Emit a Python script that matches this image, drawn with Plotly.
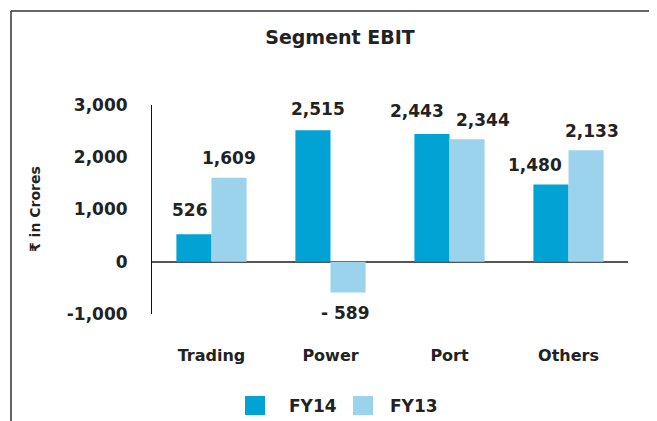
import plotly.graph_objects as go

categories = ["Trading", "Power", "Port", "Others"]
fy14 = [526, 2515, 2443, 1480]
fy13 = [1609, -589, 2344, 2133]
fy14_labels = ["526", "2,515", "2,443", "1,480"]
fy13_labels = ["1,609", "- 589", "2,344", "2,133"]
tick_vals = [-1000, 0, 1000, 2000, 3000]
tick_text = ["-1,000", "0", "1,000", "2,000", "3,000"]
series = [("FY14", fy14, fy14_labels), ("FY13", fy13, fy13_labels)]

# label placement tweaks (pixels), styling only
label_dx = {"FY14": [-4, 5, -15, -16], "FY13": [0, -3, 16, 6]}
label_dy = {"FY14": [12, 9, 11, 7], "FY13": [8, 8, 7, 7]}

FONT = "DejaVu Sans"
DARK = "#222222"
COLORS = {"FY14": "#00A3D3", "FY13": "#9BD3EC"}

W, H = 657, 421
OFF = 8  # page body margin offset
PL, PR, PT, PB = 152, 628, 105, 314  # plot area in page pixels
L, T = PL - OFF, PT - OFF
R, B = W - (PR - OFF), H - (PB - OFF)
pw, ph = PR - PL, PB - PT
BARGAP = 0.41
bar_px = pw / len(categories) * (1 - BARGAP) / 2


def px(x):
    return (x - PL) / pw


def py(y):
    return (PB - y) / ph


fig = go.Figure()
annotations = []
for i, (name, vals, labels) in enumerate(series):
    fig.add_trace(go.Bar(name=name, x=categories, y=vals, marker_color=COLORS[name],
                         marker_line_width=0, showlegend=False))
    shift = (i - 0.5) * bar_px
    for j, (c, v, t) in enumerate(zip(categories, vals, labels)):
        dy = label_dy[name][j]
        annotations.append(dict(
            x=c, y=v, xref="x", yref="y", text=t, showarrow=False,
            xshift=shift + label_dx[name][j], yshift=dy if v >= 0 else -dy,
            yanchor="bottom" if v >= 0 else "top", xanchor="center",
            font=dict(family=FONT, size=17, color=DARK, weight="bold")))

annotations.append(dict(text="₹ in Crores", textangle=-90, xref="paper", yref="paper",
                        x=px(35), y=py(209), showarrow=False, xanchor="center", yanchor="middle",
                        font=dict(family=FONT, size=14, color=DARK, weight="bold")))

shapes = [
    dict(type="line", xref="paper", yref="paper", x0=px(11), x1=px(W + OFF), y0=py(11), y1=py(11),
         line=dict(color="#333333", width=1.5)),
    dict(type="line", xref="paper", yref="paper", x0=px(11), x1=px(11), y0=py(11), y1=py(H + OFF),
         line=dict(color="#333333", width=1.5)),
]

legend_pos = {"FY14": (245, 287), "FY13": (353, 388)}
for name, _, _ in series:
    sx, tx = legend_pos[name]
    shapes.append(dict(type="rect", xref="paper", yref="paper",
                       x0=px(sx), x1=px(sx + 20), y0=py(415), y1=py(396),
                       fillcolor=COLORS[name], line=dict(width=0)))
    annotations.append(dict(text=name, xref="paper", yref="paper", x=px(tx), y=py(406),
                            xanchor="left", yanchor="middle", showarrow=False,
                            font=dict(family=FONT, size=17, color=DARK, weight="bold")))

fig.update_layout(
    width=W, height=H,
    margin=dict(l=L, r=R, t=T, b=B, autoexpand=False),
    paper_bgcolor="white", plot_bgcolor="white",
    barmode="group", bargap=BARGAP, bargroupgap=0,
    font=dict(family=FONT, color=DARK),
    title=dict(text="Segment EBIT", x=(340 - OFF) / W, xref="container", xanchor="center",
               y=1 - (37 - OFF) / H, yref="container", yanchor="middle",
               font=dict(family=FONT, size=19, color=DARK, weight="bold")),
    xaxis=dict(showgrid=False, showline=False, ticks="", zeroline=False,
               tickfont=dict(family=FONT, size=16, color=DARK, weight="bold"),
               ticklabelstandoff=30),
    yaxis=dict(range=[-1000, 3000], tickvals=tick_vals, ticktext=tick_text,
               showgrid=False, showline=True, linecolor="#111111", linewidth=1,
               zeroline=True, zerolinecolor="#555555", zerolinewidth=2,
               ticks="", ticklabelstandoff=20,
               tickfont=dict(family=FONT, size=17, color=DARK, weight="bold")),
    showlegend=False,
    annotations=annotations,
    shapes=shapes,
)

fig.write_html("out.html")
